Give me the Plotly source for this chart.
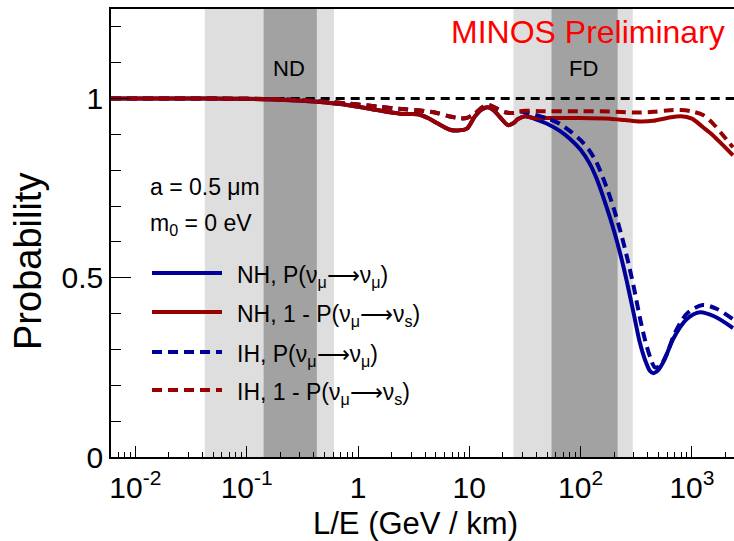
import plotly.graph_objects as go

# ---------------- data ----------------
# NH, P(numu->numu)  (blue solid)
nh_mumu_x = [0.006, 0.05, 0.1, 0.2, 0.43, 0.85, 1.48, 2.4, 3.0, 3.6, 4.3, 5.1, 6.7, 7.9, 9.5, 11.2, 13, 14.7,
             16.5, 18.9, 22.3, 25, 27.4, 31.7, 38.9, 50, 65, 80, 100, 120, 140, 170, 200, 230, 260, 300,
             340, 380, 420, 450, 500, 560, 680, 900, 1180, 1600, 2340]
nh_mumu_y = [1.0, 1.0, 0.9995, 0.997, 0.991, 0.981, 0.968, 0.958, 0.957, 0.955, 0.945, 0.932, 0.913, 0.911, 0.916,
             0.950, 0.970, 0.976, 0.968, 0.948, 0.926, 0.932, 0.943, 0.951, 0.943, 0.930, 0.910, 0.888, 0.857,
             0.820, 0.775, 0.700, 0.630, 0.560, 0.490, 0.400, 0.320, 0.270, 0.240, 0.234, 0.243, 0.268, 0.330,
             0.385, 0.404, 0.392, 0.360]

# NH, 1 - P(numu->nus)  (red solid)
nh_s_x = [0.006, 0.05, 0.1, 0.2, 0.43, 0.85, 1.48, 2.4, 3.0, 3.6, 4.3, 5.1, 6.7, 7.9, 9.5, 11.2, 13, 14.7,
          16.5, 18.9, 22.3, 25, 27.4, 31.7, 38.9, 50, 99, 184, 250, 342, 450, 600, 800, 1000, 1259, 1540,
          1900, 2340]
nh_s_y = [1.0, 1.0, 0.9995, 0.997, 0.991, 0.981, 0.968, 0.958, 0.957, 0.955, 0.945, 0.932, 0.913, 0.911, 0.916,
          0.950, 0.970, 0.976, 0.968, 0.948, 0.926, 0.932, 0.943, 0.951, 0.945, 0.946, 0.946, 0.944, 0.940,
          0.936, 0.938, 0.946, 0.951, 0.944, 0.920, 0.898, 0.870, 0.842]

# IH, P(numu->numu)  (blue dashed)
ih_mumu_x = [0.006, 0.05, 0.1, 0.2, 0.43, 0.85, 1.48, 2.65, 3.6, 5.1, 6.7, 8.3, 9.5, 11.2, 13, 14.7, 17, 21,
             25, 28, 31.7, 38.9, 50, 65, 80, 100, 120, 140, 170, 200, 230, 260, 300, 340, 380, 420, 465, 520,
             600, 700, 900, 1250, 1680, 2340]
ih_mumu_y = [1.0, 1.0, 0.9997, 0.998, 0.993, 0.986, 0.978, 0.970, 0.967, 0.960, 0.950, 0.945, 0.946, 0.958,
             0.975, 0.982, 0.975, 0.962, 0.960, 0.964, 0.962, 0.955, 0.945, 0.930, 0.910, 0.884, 0.855, 0.820,
             0.755, 0.690, 0.625, 0.560, 0.475, 0.390, 0.325, 0.280, 0.250, 0.255, 0.290, 0.345, 0.400, 0.424,
             0.413, 0.384]

# IH, 1 - P(numu->nus)  (red dashed)
ih_s_x = [0.006, 0.05, 0.1, 0.2, 0.43, 0.85, 1.48, 2.65, 3.6, 5.1, 6.7, 8.3, 9.5, 11.2, 13, 14.7, 17, 21,
          25, 28, 31.7, 43, 99, 184, 300, 450, 600, 800, 1000, 1259, 1540, 1900, 2340]
ih_s_y = [1.0, 1.0, 0.9997, 0.998, 0.993, 0.986, 0.978, 0.970, 0.967, 0.960, 0.950, 0.945, 0.946, 0.958,
          0.975, 0.982, 0.975, 0.962, 0.960, 0.964, 0.966, 0.965, 0.965, 0.964, 0.961, 0.963, 0.967, 0.968,
          0.964, 0.954, 0.931, 0.898, 0.864]

# no-oscillation reference
ref_x = [0.006, 2400]
ref_y = [1.0, 1.0]

# detector L/E bands
nd_outer = [0.042, 0.61]
nd_inner = [0.142, 0.427]
fd_outer = [24.9, 294]
fd_inner = [54.8, 215]

x_tickvals = [0.01, 0.1, 1, 10, 100, 1000]
x_ticktext = ["10<sup>-2</sup>", "10<sup>-1</sup>", "1", "10", "10<sup>2</sup>", "10<sup>3</sup>"]
y_tickvals = [0, 0.5, 1]
y_ticktext = ["0", "0.5", "1"]

series_names = ["NH, P(ν<sub>μ</sub>⟶ν<sub>μ</sub>)", "NH, 1 - P(ν<sub>μ</sub>⟶ν<sub>s</sub>)",
                "IH, P(ν<sub>μ</sub>⟶ν<sub>μ</sub>)", "IH, 1 - P(ν<sub>μ</sub>⟶ν<sub>s</sub>)"]

# ---------------- layout helpers ----------------
W, H = 734, 541
ML, MR, MT, MB = 111, 0, 9, 84
PW, PH = W - ML - MR, H - MT - MB
YMAX = 1.25
FONT = "Liberation Sans, Arial, Helvetica, sans-serif"
BLUE = "#000099"
RED = "#990000"
DASH = "10px,6px"


def pxx(x):
    return (x - ML) / PW


def pxy(y):
    return (H - MB - y) / PH


fig = go.Figure()

# bands
for rng, col in [(nd_outer, "#dedede"), (fd_outer, "#dedede"), (nd_inner, "#a2a2a2"), (fd_inner, "#a2a2a2")]:
    fig.add_trace(go.Scatter(x=[rng[0], rng[0], rng[1], rng[1], rng[0]], y=[0, YMAX, YMAX, 0, 0],
                             mode="lines", fill="toself", fillcolor=col, line=dict(width=0),
                             hoverinfo="skip", showlegend=False))

fig.add_trace(go.Scatter(x=ref_x, y=ref_y, mode="lines", line=dict(color="black", width=3, dash="9px,6px"),
                         showlegend=False))

curves = [
    (nh_mumu_x, nh_mumu_y, BLUE, "solid"),
    (nh_s_x, nh_s_y, RED, "solid"),
    (ih_mumu_x, ih_mumu_y, BLUE, DASH),
    (ih_s_x, ih_s_y, RED, DASH),
]
for (xs, ys, col, dash), name in zip(curves, series_names):
    fig.add_trace(go.Scatter(x=xs, y=ys, mode="lines", name=name,
                             line=dict(color=col, width=4, dash=dash, shape="spline", smoothing=0.8),
                             showlegend=False))

minor_x = [m * 10 ** e for e in range(-3, 4) for m in range(2, 10)]
minor_y = [i / 10 for i in range(0, 13) if i not in (0, 5, 10)]

fig.update_layout(
    width=W, height=H,
    margin=dict(l=ML, r=MR, t=MT, b=MB),
    paper_bgcolor="white", plot_bgcolor="white",
    font=dict(family=FONT, color="black"),
    showlegend=False,
    xaxis=dict(type="log", range=[-2.219, 3.378], showgrid=False, zeroline=False,
               showline=True, linecolor="black", linewidth=1.5, mirror=True,
               tickmode="array", tickvals=x_tickvals, ticktext=x_ticktext,
               ticks="inside", ticklen=11, tickwidth=1, tickcolor="black",
               tickfont=dict(size=30, family=FONT), ticklabelstandoff=3,
               minor=dict(tickmode="array", tickvals=minor_x, ticks="inside", ticklen=5,
                          tickwidth=1, tickcolor="black", showgrid=False)),
    yaxis=dict(range=[0, YMAX], showgrid=False, zeroline=False,
               showline=True, linecolor="black", linewidth=1.5,
               tickmode="array", tickvals=y_tickvals, ticktext=y_ticktext,
               ticks="inside", ticklen=20, tickwidth=1, tickcolor="black",
               tickfont=dict(size=30, family=FONT),
               minor=dict(tickmode="array", tickvals=minor_y, ticks="inside", ticklen=10,
                          tickwidth=1, tickcolor="black", showgrid=False)),
)

ann = []
# titles
ann.append(dict(text="L/E (GeV / km)", x=pxx(415), y=pxy(523), xref="paper", yref="paper",
                showarrow=False, font=dict(size=31, family=FONT), xanchor="center", yanchor="middle"))
ann.append(dict(text="Probability", x=pxx(28), y=pxy(262), xref="paper", yref="paper", textangle=-90,
                showarrow=False, font=dict(size=38, family=FONT), xanchor="center", yanchor="middle"))
ann.append(dict(text="MINOS Preliminary", x=pxx(727), y=pxy(32), xref="paper", yref="paper",
                showarrow=False, font=dict(size=32, family=FONT, color="#ff0000"),
                xanchor="right", yanchor="middle"))
ann.append(dict(text="ND", x=pxx(289), y=pxy(69), xref="paper", yref="paper",
                showarrow=False, font=dict(size=22, family=FONT), xanchor="center", yanchor="middle"))
ann.append(dict(text="FD", x=pxx(583), y=pxy(69), xref="paper", yref="paper",
                showarrow=False, font=dict(size=22, family=FONT), xanchor="center", yanchor="middle"))
ann.append(dict(text="a = 0.5 μm", x=pxx(148), y=pxy(187), xref="paper", yref="paper",
                showarrow=False, font=dict(size=23, family=FONT), xanchor="left", yanchor="middle"))
ann.append(dict(text="m<sub>0</sub> = 0 eV", x=pxx(148), y=pxy(224), xref="paper", yref="paper",
                showarrow=False, font=dict(size=23, family=FONT), xanchor="left", yanchor="middle"))

shapes = []
legend_rows = [273, 312, 352, 390]
for (xs, ys, col, dash), name, yy in zip(curves, series_names, legend_rows):
    shapes.append(dict(type="line", xref="paper", yref="paper", x0=pxx(152), x1=pxx(222),
                       y0=pxy(yy), y1=pxy(yy), line=dict(color=col, width=4, dash=dash)))
    ann.append(dict(text=name, x=pxx(235), y=pxy(yy + 3), xref="paper", yref="paper",
                    showarrow=False, font=dict(size=23, family=FONT), xanchor="left", yanchor="middle"))

fig.update_layout(annotations=ann, shapes=shapes)
fig.write_html("out.html")
